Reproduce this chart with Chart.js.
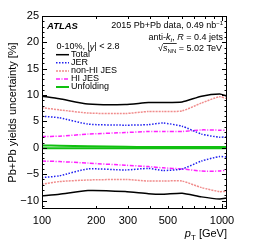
<!DOCTYPE html>
<html>
<head>
<meta charset="utf-8">
<script src="https://cdn.jsdelivr.net/npm/chart.js@4.4.1/dist/chart.umd.min.js"></script>
<style>
html, body { margin: 0; padding: 0; background: #fff; }
</style>
</head>
<body>
<canvas id="mycanvas" width="258" height="250"></canvas>
<script>
// jet pT nodes [GeV]
var pt = [100, 125, 180, 290, 390, 470, 600, 770, 970, 1066];

// uncertainties [%], upper and lower band edges
var totalUp   = [9.8, 9.3, 8.3, 8.2, 8.6, 8.6, 8.7, 9.8, 10.2, 9.8];
var totalDown = [-9.1, -8.8, -8.1, -8.3, -8.7, -8.8, -8.6, -9.3, -9.7, -9.5];
var jerUp     = [6.0, 5.7, 4.5, 4.3, 4.4, 4.7, 4.1, 2.6, 2.0, 2.1];
var jerDown   = [-5.65, -5.3, -4.0, -4.2, -3.9, -4.3, -4.0, -2.5, -1.65, -1.75];
var nonHiUp   = [7.6, 7.2, 6.6, 6.5, 6.9, 6.9, 7.0, 8.5, 9.7, 9.3];
var nonHiDown = [-6.9, -6.4, -6.1, -6.0, -6.3, -6.3, -6.3, -7.55, -8.3, -8.2];
var hiUp      = [2.15, 2.2, 2.6, 2.9, 3.1, 3.1, 3.1, 3.4, 3.35, 3.3];
var hiDown    = [-2.5, -2.6, -2.9, -3.3, -3.55, -3.8, -4.0, -4.4, -4.4, -4.2];
var unfUp     = [0.45, 0.4, 0.3, 0.2, 0.15, 0.15, 0.15, 0.15, 0.15, 0.15];
var unfDown   = [-0.1, -0.1, -0.1, -0.1, -0.1, -0.1, -0.1, -0.1, -0.1, -0.1];

var xTicks = [100, 200, 300, 400, 500, 600, 700, 800, 900, 1000];
var xTickLabels = [100, 200, 300, 500, 1000];
var yTickLabels = [-10, -5, 0, 5, 10, 15, 20, 25];

var FONT = "'Liberation Sans', Arial, sans-serif";

function pts(vals) {
	var out = [];
	for (var i in vals) out.push({x: pt[i], y: vals[i]});
	return out;
}

var styles = {
	'Total':      {color: '#000000', dash: [], width: 1.5},
	'JER':        {color: '#2020f0', dash: [1.5, 1.5], width: 1.5},
	'non-HI JES': {color: '#f08c8c', dash: [2, 1], width: 1.5},
	'HI JES':     {color: '#ff20ff', dash: [4, 1.5, 1, 1.5], width: 1.5},
	'Unfolding':  {color: '#10c010', dash: [], width: 2}
};

var series = [
	['Total', totalUp, totalDown],
	['JER', jerUp, jerDown],
	['non-HI JES', nonHiUp, nonHiDown],
	['HI JES', hiUp, hiDown],
	['Unfolding', unfUp, unfDown]
];

var datasets = [];
series.forEach(function(s) {
	var st = styles[s[0]];
	[s[1], s[2]].forEach(function(v) {
		datasets.push({
			label: s[0],
			data: pts(v),
			borderColor: st.color,
			borderDash: st.dash,
			borderWidth: st.width,
			pointRadius: 0,
			tension: 0.2,
			fill: false
		});
	});
});

function rich(ctx, parts, x, y, align) {
	var w = 0;
	parts.forEach(function(p) { ctx.font = p.f; w += ctx.measureText(p.t).width; });
	var cx = align === 'right' ? x - w : x;
	parts.forEach(function(p) {
		ctx.font = p.f;
		p.x0 = cx;
		ctx.fillText(p.t, cx, y + (p.dy || 0));
		cx += ctx.measureText(p.t).width;
		p.x1 = cx;
	});
	return parts;
}

var decorations = {
	id: 'decorations',
	afterDraw: function(chart) {
		var ctx = chart.ctx;
		var a = chart.chartArea;
		var xs = chart.scales.x, ys = chart.scales.y;
		ctx.save();
		ctx.strokeStyle = '#000';
		ctx.lineWidth = 1;
		ctx.setLineDash([]);
		ctx.strokeRect(a.left + 0.5, a.top + 0.5, a.right - a.left - 1, a.bottom - a.top - 1);

		// inner ticks
		ctx.beginPath();
		for (var v = -11; v <= 25; v++) {
			var py = Math.round(ys.getPixelForValue(v)) + 0.5;
			var len = (v % 5 === 0) ? 5 : 2.5;
			ctx.moveTo(a.left, py); ctx.lineTo(a.left + len, py);
			ctx.moveTo(a.right, py); ctx.lineTo(a.right - len, py);
		}
		xTicks.forEach(function(t) {
			var px = Math.round(xs.getPixelForValue(t)) + 0.5;
			var len = (t === 100 || t === 1000) ? 5 : 3;
			ctx.moveTo(px, a.bottom); ctx.lineTo(px, a.bottom - len);
			ctx.moveTo(px, a.top); ctx.lineTo(px, a.top + len);
		});
		ctx.stroke();

		ctx.fillStyle = '#000';
		ctx.textBaseline = 'middle';
		var f9 = '9px ' + FONT, f6 = '6px ' + FONT, i9 = 'italic 9px ' + FONT;
		rich(ctx, [{t: 'ATLAS', f: 'italic bold 9.5px ' + FONT}], 47, 26, 'left');
		rich(ctx, [{t: '2015 Pb+Pb data, 0.49 nb', f: f9}, {t: '\u22121', f: f6, dy: -3}], 223, 26, 'right');
		rich(ctx, [{t: 'anti-', f: f9}, {t: 'k', f: i9}, {t: 't', f: 'italic 6px ' + FONT, dy: 2.5},
			{t: ', ', f: f9}, {t: 'R', f: i9}, {t: ' = 0.4 jets', f: f9}], 223, 37.7, 'right');
		var sq = rich(ctx, [{t: '\u221A', f: f9}, {t: 's', f: i9}, {t: 'NN', f: f6, dy: 2.5},
			{t: ' = 5.02 TeV', f: f9}], 222, 48.7, 'right');
		ctx.beginPath();
		ctx.lineWidth = 0.8;
		ctx.moveTo(sq[1].x0, 43.5); ctx.lineTo(sq[2].x1 + 0.5, 43.5);
		ctx.stroke();

		rich(ctx, [{t: '0-10%, |', f: f9}, {t: 'y', f: i9}, {t: '| < 2.8', f: f9}], 56.5, 47, 'left');

		// legend
		var ly = [54.7, 62.7, 71, 79, 87];
		series.forEach(function(s, i) {
			var st = styles[s[0]];
			ctx.beginPath();
			ctx.strokeStyle = st.color;
			ctx.lineWidth = st.width;
			ctx.setLineDash(st.dash);
			ctx.moveTo(56, ly[i]); ctx.lineTo(69, ly[i]);
			ctx.stroke();
			ctx.setLineDash([]);
			ctx.fillStyle = '#000';
			rich(ctx, [{t: s[0], f: f9}], 71, ly[i], 'left');
		});

		// x title
		ctx.textBaseline = 'alphabetic';
		rich(ctx, [{t: 'p', f: 'italic 11px ' + FONT}, {t: 'T', f: '8px ' + FONT, dy: 2.5},
			{t: ' [GeV]', f: '11px ' + FONT}], 227, 237, 'right');
		ctx.restore();
	}
};

var ctx = document.getElementById('mycanvas');

var chart = new Chart(ctx, {
	type: 'line',
	data: {datasets: datasets},
	options: {
		responsive: false,
		animation: false,
		devicePixelRatio: 1,
		layout: {padding: {left: 0, top: 16, right: 31, bottom: 0}},
		plugins: {legend: {display: false}, tooltip: {enabled: false}},
		scales: {
			x: {
				type: 'logarithmic',
				min: 100,
				max: 1066,
				grid: {display: false, drawTicks: false},
				border: {display: false},
				afterBuildTicks: function(scale) {
					scale.ticks = xTicks.map(function(v) { return {value: v}; });
				},
				afterFit: function(scale) { scale.height = 41; },
				ticks: {
					autoSkip: false,
					maxRotation: 0,
					padding: 5,
					color: '#000',
					font: {family: FONT, size: 11},
					callback: function(v) { return xTickLabels.indexOf(v) >= 0 ? String(v) : ''; }
				}
			},
			y: {
				min: -11.6,
				max: 25,
				grid: {display: false, drawTicks: false},
				border: {display: false},
				afterBuildTicks: function(scale) {
					scale.ticks = yTickLabels.map(function(v) { return {value: v}; });
				},
				afterFit: function(scale) { scale.width = 42; },
				title: {
					display: true,
					text: 'Pb+Pb yields uncertainty [%]',
					color: '#000',
					font: {family: FONT, size: 11},
					padding: {top: 6, bottom: 0}
				},
				ticks: {
					padding: 3,
					color: '#000',
					font: {family: FONT, size: 11},
					callback: function(v) { return v < 0 ? '\u2212' + Math.abs(v) : String(v); }
				}
			}
		}
	},
	plugins: [decorations]
});
</script>
</body>
</html>
